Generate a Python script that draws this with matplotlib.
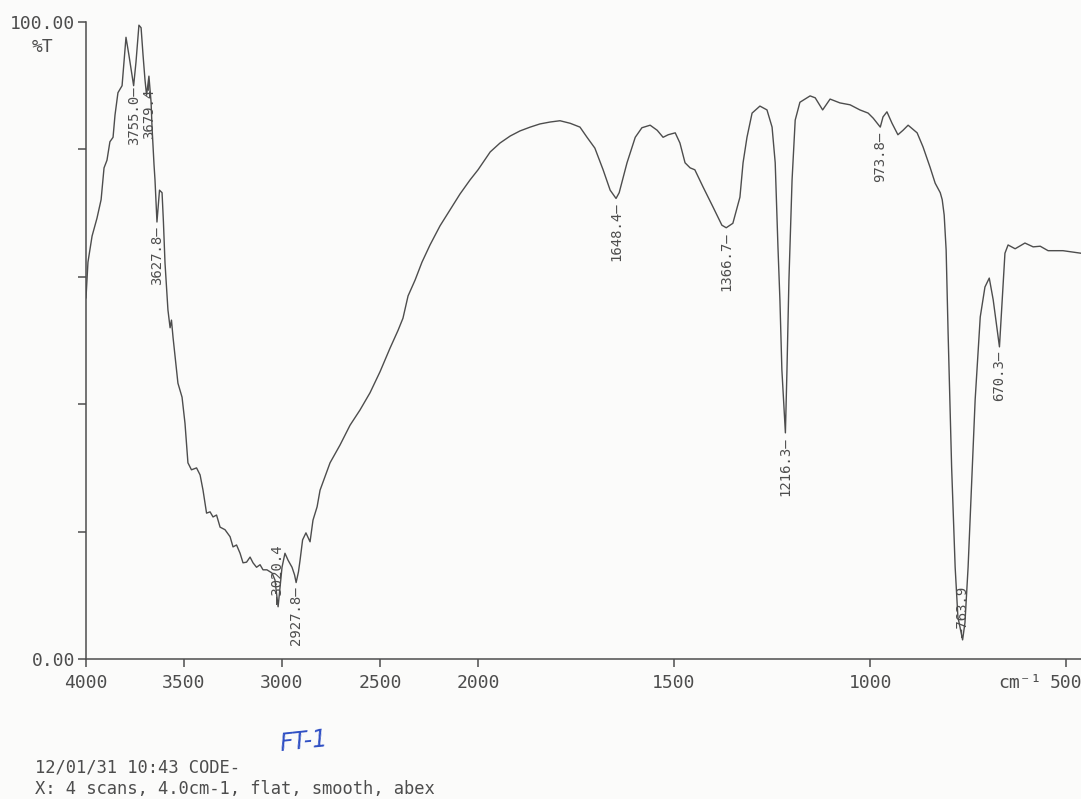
import numpy as np
import matplotlib
matplotlib.use('Agg')
import matplotlib.pyplot as plt

# spectrum: wavenumber (cm-1) and transmittance (%T)
wavenumber = [4000, 3990, 3969, 3944, 3923, 3908, 3893, 3878, 3862, 3852,
              3837, 3816, 3796, 3781, 3757, 3745, 3730, 3719, 3709, 3699,
              3691, 3679, 3668, 3663, 3653, 3648, 3638, 3625, 3612, 3605,
              3597, 3582, 3571, 3564, 3556, 3531, 3510, 3495, 3480, 3462,
              3436, 3418, 3403, 3385, 3367, 3352, 3334, 3316, 3291, 3265,
              3250, 3232, 3214, 3199, 3181, 3163, 3148, 3130, 3112, 3097,
              3077, 3051, 3036, 3020, 3010, 3000, 2985, 2969, 2949, 2936,
              2928, 2916, 2908, 2895, 2878, 2857, 2842, 2821, 2806, 2781,
              2755, 2704, 2653, 2602, 2551, 2500, 2449, 2408, 2383, 2357,
              2321, 2286, 2245, 2194, 2143, 2092, 2041, 2000,
              1969, 1944, 1918, 1893, 1867, 1842, 1816, 1791, 1765, 1740,
              1722, 1702, 1681, 1663, 1648, 1640, 1620, 1599, 1582, 1561,
              1543, 1528, 1515, 1497, 1485, 1472, 1459, 1447, 1426, 1401,
              1378, 1367, 1350, 1332, 1324, 1314, 1301, 1281, 1263, 1250,
              1242, 1235, 1230, 1225, 1216, 1212, 1207, 1199, 1191, 1179,
              1153, 1140, 1121, 1102, 1077, 1051, 1026, 1005, 992, 974,
              967, 957, 944, 929, 916, 903, 880, 865, 847, 834,
              821, 816, 811, 806, 801, 792, 783, 776, 764, 758,
              750, 741, 732, 719, 707, 696, 686, 670, 663, 656,
              648, 630, 605, 584, 566, 546, 508, 462]
transmittance = [56.7, 62.3, 66.4, 69.2, 72.1, 77.1, 78.3, 81.2, 81.9, 85.4,
                 88.9, 90.0, 97.6, 94.8, 90.0, 93.7, 99.5, 99.1, 94.8, 90.9,
                 88.5, 91.5, 87.4, 83.4, 77.6, 75.2, 68.6, 73.6, 73.2, 68.6,
                 62.2, 54.8, 52.0, 53.2, 50.5, 43.3, 41.1, 37.0, 30.8, 29.7,
                 30.0, 28.9, 26.5, 22.9, 23.1, 22.3, 22.6, 20.7, 20.3, 19.2,
                 17.6, 17.9, 16.6, 15.1, 15.2, 16.0, 15.1, 14.4, 14.8, 14.0,
                 14.0, 13.5, 12.4, 8.2, 11.3, 14.4, 16.6, 15.5, 14.4, 13.2,
                 12.0, 13.7, 15.5, 18.7, 19.8, 18.4, 21.8, 23.9, 26.5, 28.6,
                 30.8, 33.6, 36.7, 39.1, 41.8, 45.1, 48.8, 51.6, 53.5, 57.0,
                 59.5, 62.3, 65.0, 68.0, 70.5, 73.0, 75.2, 76.8,
                 79.6, 81.0, 82.1, 82.9, 83.5, 84.0, 84.3, 84.5, 84.1, 83.5,
                 81.9, 80.2, 76.8, 73.6, 72.3, 73.2, 77.9, 81.9, 83.4, 83.8,
                 83.0, 81.9, 82.3, 82.6, 81.0, 77.9, 77.1, 76.8, 74.1, 71.0,
                 68.1, 67.7, 68.4, 72.5, 77.9, 81.9, 85.7, 86.8, 86.2, 83.5,
                 77.9, 64.7, 56.4, 45.4, 35.5, 45.4, 59.5, 75.2, 84.6, 87.4,
                 88.4, 88.1, 86.2, 87.9, 87.3, 87.0, 86.2, 85.7, 84.9, 83.5,
                 85.1, 85.9, 84.1, 82.3, 83.0, 83.8, 82.6, 80.4, 77.2, 74.7,
                 73.2, 72.1, 69.7, 64.2, 51.2, 30.1, 14.4, 6.6, 3.0, 5.7,
                 14.4, 27.6, 40.7, 53.7, 58.4, 59.8, 56.4, 49.0, 56.4, 63.7,
                 65.0, 64.4, 65.3, 64.7, 64.8, 64.1, 64.1, 63.7]

# labelled peaks
peak_text = ['3755.0', '3679.4', '3627.8', '3020.4', '2927.8', '1648.4',
             '1366.7', '1216.3', '973.8', '763.9', '670.3']
peak_wn = [3755, 3679, 3638, 3020, 2928, 1648, 1367, 1216, 974, 764, 670]
peak_above = [False, False, False, True, False, False, False, False, False, True, False]

xticks = [4000, 3500, 3000, 2500, 2000, 1500, 1000, 500]

ink = '#4d4d4d'
mono = 'DejaVu Sans Mono'


# the chart doubles the scale below 2000 cm-1
def fwd(w):
    w = np.asarray(w, dtype=float)
    return np.where(w >= 2000, w, 2 * w - 2000)


def inv(v):
    v = np.asarray(v, dtype=float)
    return np.where(v >= 2000, v, (v + 2000) / 2)


fig = plt.figure(figsize=(10.81, 7.99), dpi=100, facecolor='#fbfbfa')
ax = fig.add_axes([86 / 1081, 1 - 659 / 799, 1 - 86 / 1081, 637 / 799])
ax.set_facecolor('#fbfbfa')
ax.set_xscale('function', functions=(fwd, inv))
ax.plot(wavenumber, transmittance, color=ink, lw=1.0)
ax.set_xlim(4000, 462)
ax.set_ylim(0, 100)

for s in ['top', 'right']:
    ax.spines[s].set_visible(False)
for s in ['left', 'bottom']:
    ax.spines[s].set_color(ink)
    ax.spines[s].set_linewidth(1.1)

ax.set_xticks(xticks)
ax.set_xticklabels([str(t) for t in xticks], fontfamily=mono, fontsize=13, color=ink)
ax.xaxis.set_minor_locator(matplotlib.ticker.NullLocator())
ax.set_yticks([0, 20, 40, 60, 80, 100])
ax.set_yticklabels(['0.00', '', '', '', '', '100.00'], fontfamily=mono, fontsize=13, color=ink)
ax.tick_params(axis='both', direction='out', length=6, width=1.1, color=ink)
ax.tick_params(axis='x', pad=5)
ax.tick_params(axis='y', pad=2)

ax.text(-0.044, 0.96, '%T', transform=ax.transAxes, ha='center', va='center',
        fontfamily=mono, fontsize=13, color=ink)
ax.text(617, -0.037, 'cm⁻¹', transform=ax.get_xaxis_transform(), ha='center',
        va='center', fontfamily=mono, fontsize=13, color=ink)

for txt, w, above in zip(peak_text, peak_wn, peak_above):
    t = float(np.interp(-w, -np.array(wavenumber), transmittance))
    if above:
        ax.annotate('—' + txt, xy=(w, t), xytext=(0, 2), textcoords='offset points',
                    rotation=90, ha='center', va='bottom', fontfamily=mono,
                    fontsize=10, color=ink)
    else:
        ax.annotate(txt + '—', xy=(w, t), xytext=(0, -3), textcoords='offset points',
                    rotation=90, ha='center', va='top', fontfamily=mono,
                    fontsize=10, color=ink)

fig.text(35 / 1081, 1 - 768 / 799, '12/01/31 10:43 CODE-', ha='left', va='center',
         fontfamily=mono, fontsize=12.3, color=ink)
fig.text(35 / 1081, 1 - 789 / 799, 'X: 4 scans, 4.0cm-1, flat, smooth, abex', ha='left',
         va='center', fontfamily=mono, fontsize=12.3, color=ink)
fig.text(278 / 1081, 1 - 742 / 799, 'FT-1', ha='left', va='center', fontsize=17,
         fontstyle='italic', color='#2f4fc4', rotation=6)

fig.savefig('out.png', dpi=100, facecolor=fig.get_facecolor())
